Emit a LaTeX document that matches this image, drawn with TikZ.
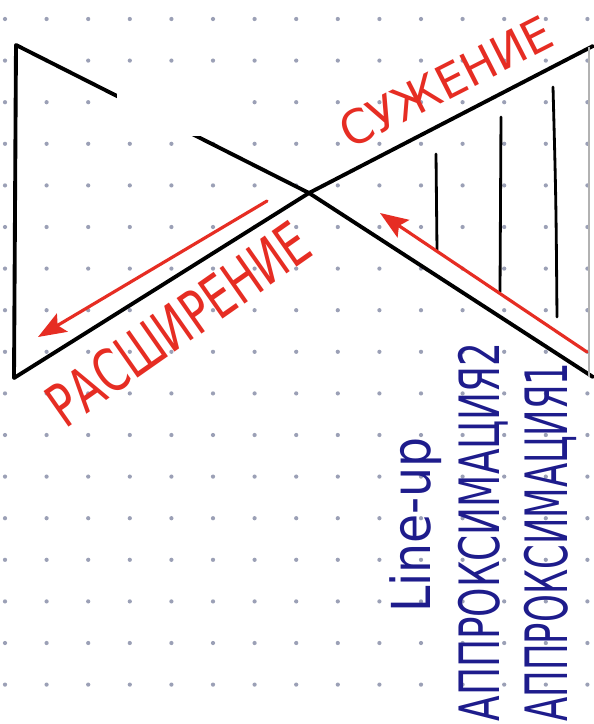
\documentclass[tikz,border=0pt]{standalone}
\usepackage{fontspec}
\setmainfont{DejaVu Sans}
\usepackage{graphicx}
\usepackage{xcolor}
\usepackage{tikz}
\usetikzlibrary{arrows.meta}

\definecolor{redpen}{RGB}{230,45,35}
\definecolor{bluepen}{RGB}{30,28,140}
\definecolor{dotgray}{RGB}{155,160,182}

\begin{document}
\begin{tikzpicture}[
    x=0.02cm, y=-0.02cm,
    pen/.style={line width=2.2pt, line join=round, line cap=round},
    hatch/.style={line width=1.6pt, line cap=round},
    redarrow/.style={draw=redpen, line width=1.8pt, line cap=round, -{Stealth[length=16pt, width=12pt, inset=3pt]}},
    redword/.style={text=redpen, inner sep=0pt},
    blueword/.style={text=bluepen, inner sep=0pt, rotate=90}
]

\fill[white] (0,0) rectangle (594,724);
\useasboundingbox (0,0) rectangle (594,724);

\foreach \i in {0,...,14}
  \foreach \j in {0,...,17}
    \fill[dotgray] (5+41.6*\i, 19+41.6*\j) circle (1.2pt);

\coordinate (tl) at (16,45);
\coordinate (bl) at (14,378);
\coordinate (cross) at (309,193);
\coordinate (tr) at (593,46);
\coordinate (br) at (593,377);

\draw[pen] (bl) -- (tl) -- (cross) -- (br);
\draw[pen] (bl) -- (cross) -- (tr);
\draw[gray!60, line width=0.6pt] (589,47) -- (589,377);

\fill[white] (117,84) rectangle (244,136);

\draw[hatch] (436,154) -- (437,250);
\draw[hatch] (501,117) -- (500,292);
\draw[hatch] (553,87) .. controls (556,200) .. (557,317);

\coordinate (wide start) at (267,201);
\coordinate (wide end) at (38,337);
\coordinate (narrow start) at (587,352);
\coordinate (narrow end) at (380,213);

\draw[redarrow] (wide start) -- (wide end);
\draw[redarrow] (narrow start) -- (narrow end);

\node[redword, rotate=27] (narrowing) at (446,82) {\resizebox*{4.64cm}{0.71cm}{СУЖЕНИЕ}};
\node[redword, rotate=35] (widening) at (178,324) {\resizebox*{6.12cm}{0.90cm}{РАСШИРЕНИЕ}};

\node[blueword] (lineup) at (416,525) {\resizebox*{3.52cm}{1.04cm}{Line-up}};
\node[blueword] (approx two) at (483,532) {\resizebox*{7.58cm}{1.0cm}{АППРОКСИМАЦИЯ2}};
\node[blueword] (approx one) at (550,542) {\resizebox*{7.18cm}{1.05cm}{АППРОКСИМАЦИЯ1}};

\end{tikzpicture}
\end{document}
